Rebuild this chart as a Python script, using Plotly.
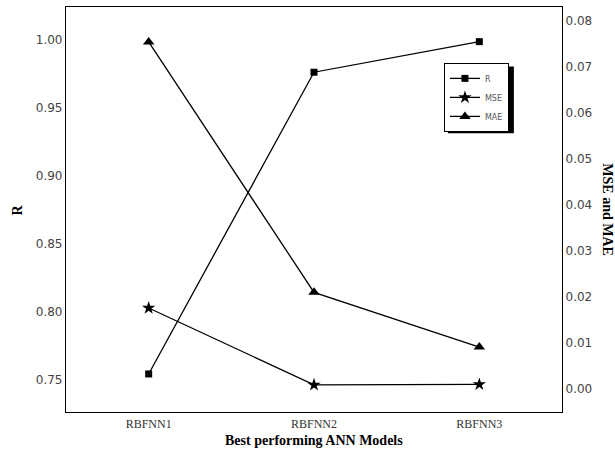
import plotly.graph_objects as go

models = ["RBFNN1", "RBFNN2", "RBFNN3"]
r_vals = [0.754, 0.976, 0.9985]
mse_vals = [0.0176, 0.0009, 0.0010]
mae_vals = [0.0754, 0.0210, 0.0091]

x_idx = list(range(len(models)))

fig = go.Figure()
line = dict(color="black", width=1.3)
fig.add_trace(go.Scatter(x=x_idx, y=r_vals, name="R", mode="lines+markers",
                         line=line, marker=dict(symbol="square", size=7, color="black"),
                         yaxis="y"))
fig.add_trace(go.Scatter(x=x_idx, y=mse_vals, name="MSE", mode="lines+markers",
                         line=line, marker=dict(symbol="star", size=10, color="black"),
                         yaxis="y2"))
fig.add_trace(go.Scatter(x=x_idx, y=mae_vals, name="MAE", mode="lines+markers",
                         line=line, marker=dict(symbol="triangle-up", size=10, color="black"),
                         yaxis="y2"))

tickfont = dict(family="DejaVu Sans", size=12, color="#444")
fig.update_layout(
    width=615, height=459,
    margin=dict(l=66, r=53, t=7, b=47),
    paper_bgcolor="white", plot_bgcolor="white",
    showlegend=True,
    legend=dict(x=0.762, y=0.862, xanchor="left", yanchor="top",
                bgcolor="white", bordercolor="black", borderwidth=1,
                font=dict(family="DejaVu Sans", size=8, color="#555"),
                tracegroupgap=0, itemwidth=30),
    xaxis=dict(range=[-0.5, 2.5], tickvals=x_idx, ticktext=models,
               showgrid=False, zeroline=False, showline=True, linecolor="black",
               linewidth=1.2, mirror=True, ticks="",
               tickfont=dict(family="Liberation Serif", size=12, color="#333")),
    yaxis=dict(range=[0.726, 1.024], tickvals=[0.75, 0.80, 0.85, 0.90, 0.95, 1.00],
               tickformat=".2f", showgrid=False, zeroline=False, showline=True,
               linecolor="black", linewidth=1.2, ticks="", tickfont=tickfont,
               ticklabelstandoff=0),
    yaxis2=dict(range=[-0.005, 0.083], overlaying="y", side="right",
                tickvals=[0.00, 0.01, 0.02, 0.03, 0.04, 0.05, 0.06, 0.07, 0.08],
                tickformat=".2f", showgrid=False, zeroline=False, showline=True,
                linecolor="black", linewidth=1.2, ticks="", tickfont=tickfont,
                ticklabelstandoff=0),
)

# legend drop shadow
fig.add_shape(type="rect", xref="paper", yref="paper",
              x0=0.770, x1=0.903, y0=0.688, y1=0.853,
              fillcolor="black", line=dict(width=0), layer="above")

title_font = dict(family="Liberation Serif", size=14, color="black")
fig.add_annotation(text="<b>R</b>", xref="paper", yref="paper", x=-0.097, y=0.5,
                   xanchor="center", textangle=-90, showarrow=False, font=title_font)
fig.add_annotation(text="<b>MSE and MAE</b>", xref="paper", yref="paper", x=1.091, y=0.5,
                   xanchor="center", textangle=90, showarrow=False, font=title_font)
fig.add_annotation(text="<b>Best performing ANN Models</b>", xref="paper", yref="paper",
                   x=0.5, y=-0.07, yanchor="middle", showarrow=False, font=title_font)

fig.write_html("out.html", config={"displayModeBar": False},
               post_script="document.body.style.margin='0';")
